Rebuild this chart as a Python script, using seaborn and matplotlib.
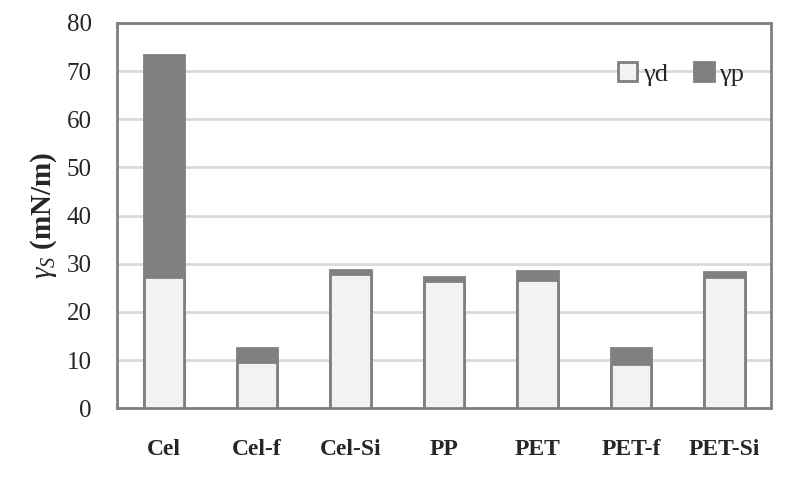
import matplotlib
matplotlib.use("Agg")
import matplotlib.pyplot as plt
import pandas as pd
import seaborn as sns
from matplotlib.patches import Patch

sns.set_style("white")
plt.rcParams["font.family"] = ["Liberation Serif", "DejaVu Serif"]
plt.rcParams["mathtext.fontset"] = "custom"
plt.rcParams["mathtext.rm"] = "Liberation Serif"
plt.rcParams["mathtext.it"] = "Liberation Serif:italic"
plt.rcParams["mathtext.bf"] = "Liberation Serif:bold"

# データ
samples = ["Cel", "Cel-f", "Cel-Si", "PP", "PET", "PET-f", "PET-Si"]
gamma_d = [27.3, 9.6, 27.8, 26.5, 26.6, 9.1, 27.3]
gamma_p = [46.1, 2.8, 0.8, 0.7, 1.9, 3.4, 0.9]

df = pd.DataFrame({"sample": samples, "gd": gamma_d, "gp": gamma_p})
df["total"] = df["gd"] + df["gp"]

LIGHT = "#f2f2f2"
DARK = "#808080"

fig = plt.figure(figsize=(7.95, 4.78), dpi=100)
ax = fig.add_axes([0.147, 0.146, 0.823, 0.806])

# 積み上げ: 合計 (γp) を先に描き、その上に γd
sns.barplot(data=df, x="sample", y="total", color=DARK, saturation=1,
            width=0.43, edgecolor=DARK, linewidth=2, order=samples, ax=ax, zorder=2)
sns.barplot(data=df, x="sample", y="gd", color=LIGHT, saturation=1,
            width=0.43, edgecolor=DARK, linewidth=2, order=samples, ax=ax, zorder=3)

ax.set_ylim(0, 80)
ax.set_xlim(-0.5, len(samples) - 0.5)
ax.set_yticks(range(0, 81, 10))
ax.yaxis.grid(True, color="#d9d9d9", lw=2)
ax.set_axisbelow(True)
for s in ax.spines.values():
    s.set_color(DARK)
    s.set_linewidth(2)

ax.tick_params(axis="y", length=0, pad=18, labelsize=18)
ax.tick_params(axis="x", length=0, pad=22, labelsize=17)
for t in ax.get_xticklabels():
    t.set_fontweight("bold")

ax.set_xlabel("")
ax.set_ylabel(r"$\gamma_S$ (mN/m)", fontsize=21, fontweight="bold", labelpad=6)

handles = [Patch(facecolor=LIGHT, edgecolor=DARK, linewidth=2, label="γd"),
           Patch(facecolor=DARK, edgecolor=DARK, linewidth=2, label="γp")]
ax.legend(handles=handles, loc="upper right", ncol=2, frameon=False,
          fontsize=19, handlelength=0.75, handleheight=0.75, handletextpad=0.2,
          columnspacing=1.0, bbox_to_anchor=(0.995, 0.96))

fig.savefig("out.png", dpi=100, facecolor="white")
